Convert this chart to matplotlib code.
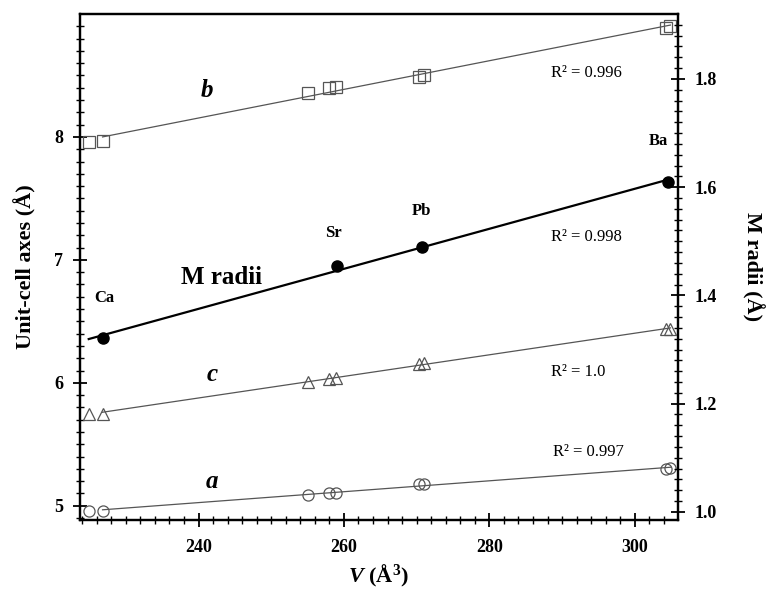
import matplotlib.pyplot as plt
import numpy as np

plt.rcParams['font.family'] = ['Liberation Serif', 'DejaVu Serif']
plt.rcParams['mathtext.fontset'] = 'custom'
plt.rcParams['mathtext.rm'] = 'Liberation Serif:bold'
plt.rcParams['mathtext.bf'] = 'Liberation Serif:bold'
plt.rcParams['mathtext.it'] = 'Liberation Serif:italic:bold'

# Data: unit-cell volume vs axes
vol = np.array([224.9, 226.8, 255.1, 257.9, 258.9, 270.3, 271.0, 304.3, 304.9])
axis_a = np.array([4.96, 4.96, 5.09, 5.10, 5.10, 5.18, 5.18, 5.30, 5.31])
axis_b = np.array([7.96, 7.97, 8.36, 8.40, 8.41, 8.49, 8.50, 8.89, 8.90])
axis_c = np.array([5.75, 5.75, 6.01, 6.03, 6.04, 6.15, 6.16, 6.44, 6.44])

# M cation radii
cations = ['Ca', 'Sr', 'Pb', 'Ba']
vol_m = np.array([226.8, 259.0, 270.8, 304.6])
radii = np.array([1.321, 1.454, 1.490, 1.610])

r2_labels = ['R² = 0.996', 'R² = 0.998', 'R² = 1.0', 'R² = 0.997']

fig = plt.figure(figsize=(7.7, 5.91), dpi=100)
ax = fig.add_axes([0.1039, 0.1201, 0.7762, 0.8562])
ax2 = ax.twinx()

gray = '#555555'
line_x = np.array([vol[1], vol[-1]])
for vals, mk in [(axis_b, 's'), (axis_c, '^'), (axis_a, 'o')]:
    k, c0 = np.polyfit(vol, vals, 1)
    ax.plot(line_x, k * line_x + c0, color=gray, lw=0.9)
    ax.plot(vol, vals, mk, ms=8, mfc='none', mec=gray, mew=0.9)

k, c0 = np.polyfit(vol_m, radii, 1)
mx = np.array([vol[0], vol_m[-1]])
ax2.plot(mx, k * mx + c0, color='black', lw=1.6)
ax2.plot(vol_m, radii, 'o', ms=8, color='black')

ax.set_xlim(223.7, 305.9)
ax.set_ylim(4.884, 9.0)
ax2.set_ylim(0.985, 1.92)

ax.set_xticks([240, 260, 280, 300])
ax.set_xticks(np.arange(224, 306, 2), minor=True)
ax.set_yticks([5, 6, 7, 8])
ax.set_yticks(np.arange(4.9, 9.0, 0.1), minor=True)
ax2.set_yticks([1.0, 1.2, 1.4, 1.6, 1.8])
ax2.set_yticks(np.arange(1.0, 1.92, 0.02), minor=True)
ax2.set_yticklabels(['1.0', '1.2', '1.4', '1.6', '1.8'])

for a_ in (ax, ax2):
    a_.tick_params(which='major', direction='inout', length=10, width=1.3,
                   labelsize=13, pad=7)
    a_.tick_params(which='minor', direction='inout', length=6, width=1.0)
    for lab in a_.get_xticklabels() + a_.get_yticklabels():
        lab.set_fontweight('bold')
    for sp in a_.spines.values():
        sp.set_linewidth(1.6)
ax.tick_params(top=False, right=False, which='both')
ax.tick_params(axis='x', pad=9)
ax2.tick_params(left=False, which='both')

ax.set_ylabel('Unit-cell axes (Å)', fontsize=16, fontweight='bold', labelpad=13)
ax2.set_ylabel('M radii (Å)', fontsize=16, fontweight='bold', rotation=-90, labelpad=34)
ax.set_xlabel(r'$V$ (Å$^3$)', fontsize=16, fontweight='bold', labelpad=5)

# series labels
ax.text(241.2, 8.38, 'b', fontsize=18, fontweight='bold', style='italic', ha='center', va='center')
ax.text(241.9, 6.07, 'c', fontsize=18, fontweight='bold', style='italic', ha='center', va='center')
ax.text(241.9, 5.20, 'a', fontsize=18, fontweight='bold', style='italic', ha='center', va='center')
ax.text(243.1, 6.86, 'M radii', fontsize=18, fontweight='bold', ha='center', va='center')

cation_pos = [(227.1, 6.69), (258.5, 7.22), (270.7, 7.40), (303.2, 7.97)]
for name, (px, py) in zip(cations, cation_pos):
    ax.text(px, py, name, fontsize=12, fontweight='bold', ha='center', va='center')

r2_pos = [(293.4, 8.52), (293.4, 7.19), (292.2, 6.09), (293.6, 5.44)]
for lab, (px, py) in zip(r2_labels, r2_pos):
    ax.text(px, py, lab, fontsize=12, ha='center', va='center')

fig.savefig('out.png', dpi=100)
